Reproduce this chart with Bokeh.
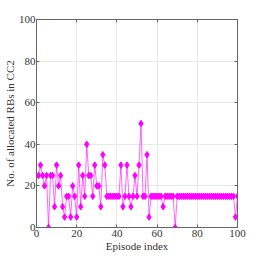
from bokeh.plotting import figure
from bokeh.models import Range1d, LinearAxis, CustomJSTickFormatter, FixedTicker
from bokeh.embed import file_html
from bokeh.resources import INLINE

episodes = list(range(1, 101))
rbs = [25, 30, 25, 20, 25, 0, 25, 25, 10, 30,
       20, 25, 10, 5, 15, 15, 5, 20, 15, 5,
       30, 10, 25, 15, 40, 25, 25, 15, 30, 20,
       20, 10, 35, 30, 15, 15, 15, 15, 15, 15,
       15, 30, 10, 15, 30, 15, 10, 15, 25, 15,
       30, 50, 15, 15, 35, 5, 15, 15, 15, 15,
       15, 15, 10, 15, 15, 15, 15, 15, 0, 15,
       15, 15, 15, 15, 15, 15, 15, 15, 15, 15,
       15, 15, 15, 15, 15, 15, 15, 15, 15, 15,
       15, 15, 15, 15, 15, 15, 15, 15, 5, 15]
ticks = [0, 20, 40, 60, 80, 100]

FONT = "Liberation Serif"
AX = "#666666"

p = figure(width=254, height=254, output_backend="svg", toolbar_location=None,
           x_range=Range1d(0, 100), y_range=Range1d(0, 100),
           min_border_left=20, min_border_right=17, min_border_top=19, min_border_bottom=20)

p.line(episodes, rbs, line_color="#ff00ff", line_width=1, line_alpha=0.6)
p.scatter(episodes, rbs, marker="diamond", size=6.5, fill_color="#ff00ff", line_color="#ff00ff")

p.xaxis.axis_label = "Episode index"
p.yaxis.axis_label = "No. of allocated RBs in CC2"
for ax in [p.xaxis[0], p.yaxis[0]]:
    ax.ticker = FixedTicker(ticks=ticks)
    ax.axis_label_text_font = FONT
    ax.axis_label_text_font_style = "normal"
    ax.axis_label_text_font_size = "11px"
    ax.axis_label_text_color = "#333333"
    ax.major_label_text_font = FONT
    ax.major_label_text_font_size = "11px"
    ax.major_label_text_color = "#333333"
    ax.axis_line_color = AX
    ax.major_tick_line_color = AX
    ax.major_tick_in = 3
    ax.major_tick_out = 0
    ax.minor_tick_line_color = None
p.xaxis.major_label_standoff = 2
p.xaxis.axis_label_standoff = 0
p.yaxis.major_label_standoff = 1
p.yaxis.axis_label_standoff = 0

for side in ["right", "above"]:
    a = LinearAxis(ticker=FixedTicker(ticks=ticks),
                   formatter=CustomJSTickFormatter(code="return ''"))
    a.axis_line_color = AX
    a.major_tick_line_color = AX
    a.major_tick_in = 3
    a.major_tick_out = 0
    a.minor_tick_line_color = None
    a.major_label_standoff = 0
    a.major_label_text_font_size = "0px"
    p.add_layout(a, side)

p.xgrid.ticker = FixedTicker(ticks=ticks)
p.ygrid.ticker = FixedTicker(ticks=ticks)
p.grid.grid_line_color = "#e8e8e8"
p.outline_line_color = AX

open("out.html", "w").write(file_html(p, INLINE))
